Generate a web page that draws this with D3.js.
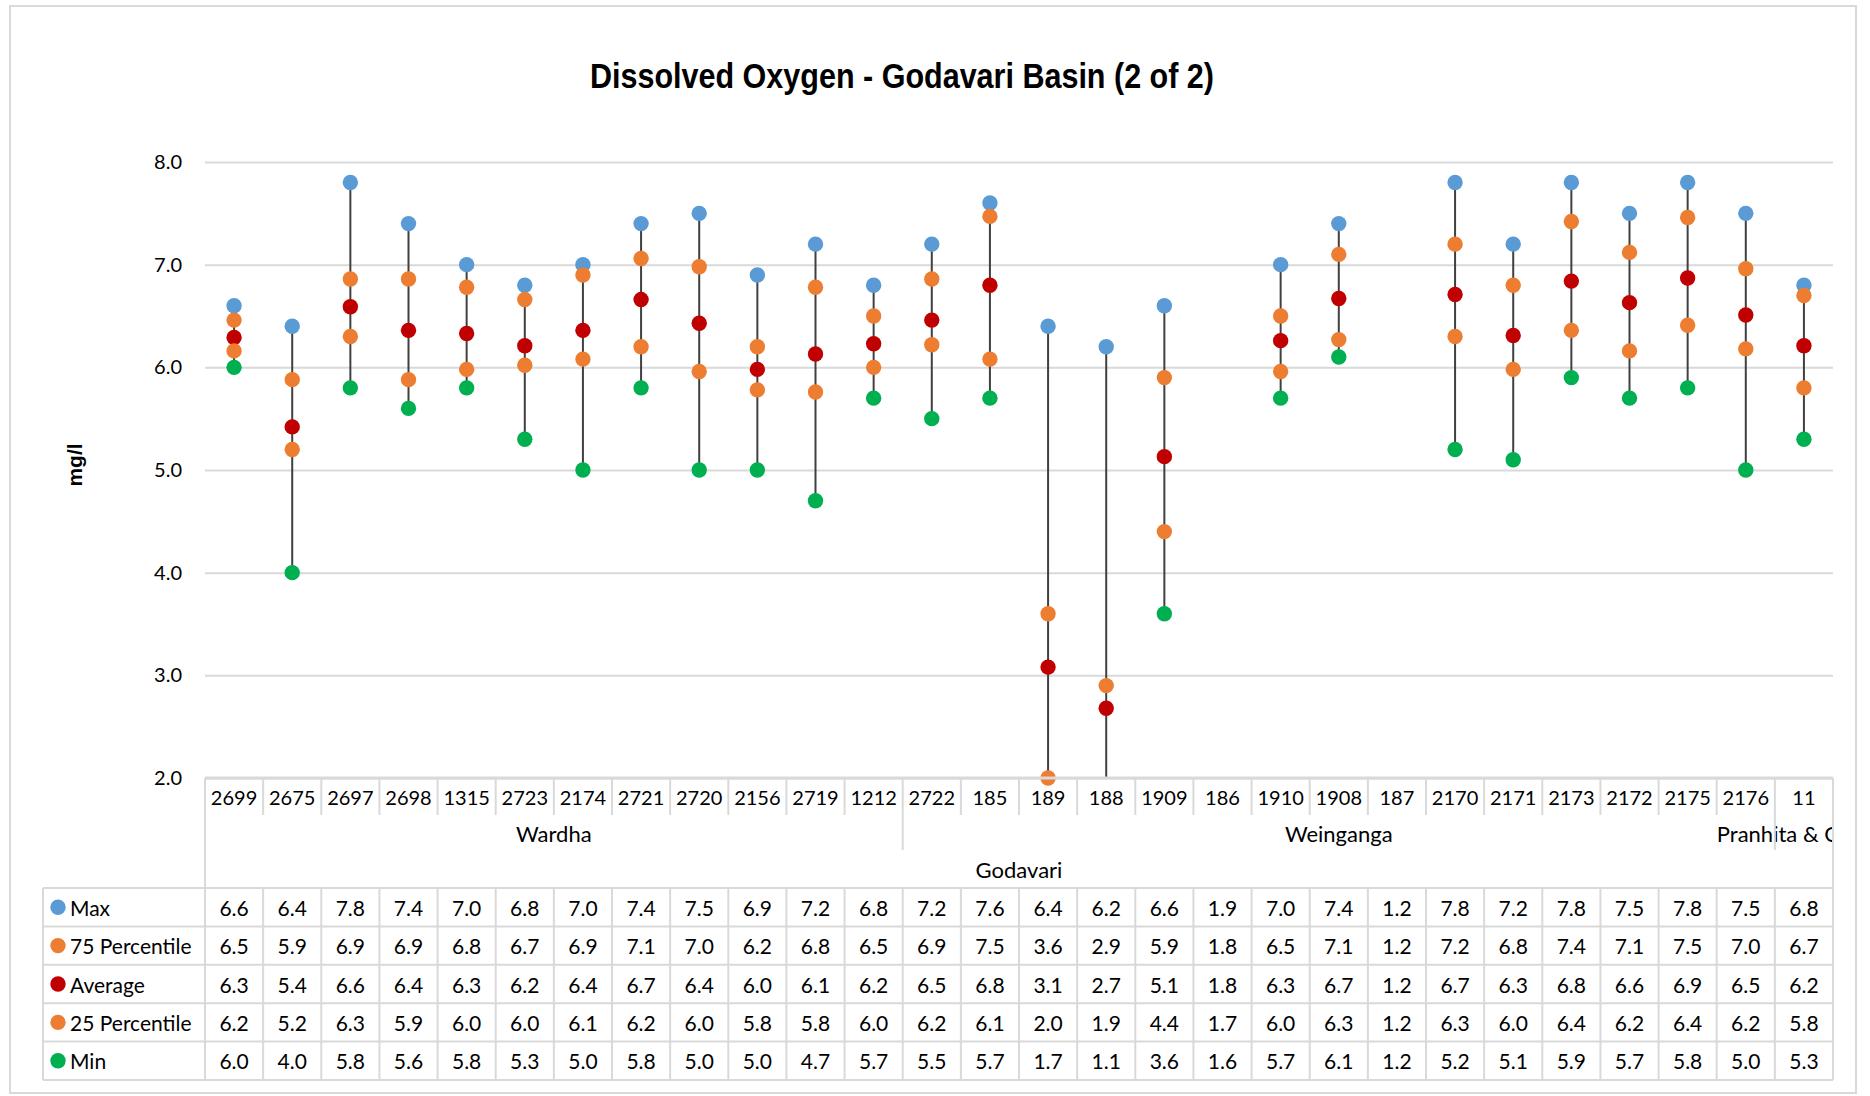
<!DOCTYPE html>
<html>
<head>
<meta charset="utf-8">
<script src="https://cdn.jsdelivr.net/npm/d3@7"></script>
<style>
  html, body { margin: 0; padding: 0; background: #ffffff; }
  svg { display: block; }
  .num { font-family: Lato, "Open Sans", sans-serif; fill: #000; }
</style>
</head>
<body>
<svg id="chart" width="1870" height="1096"></svg>
<script>
// Monitoring stations (category axis, level 1)
const categories = ["2699","2675","2697","2698","1315","2723","2174","2721","2720","2156","2719","1212",
  "2722","185","189","188","1909","186","1910","1908","187","2170","2171","2173","2172","2175","2176","11"];

// Sub-basins (level 2) and the number of stations in each
const subBasinNames = ["Wardha", "Weinganga", "Pranhita & Others"];
const subBasinSizes = [12, 15, 1];
// Basin (level 3)
const basinName = "Godavari";

// Dissolved oxygen statistics, mg/l
const maxValues = [6.6,6.4,7.8,7.4,7.0,6.8,7.0,7.4,7.5,6.9,7.2,6.8,
  7.2,7.6,6.4,6.2,6.6,1.9,7.0,7.4,1.2,7.8,7.2,7.8,7.5,7.8,7.5,6.8];
const p75Values = [6.46,5.88,6.86,6.86,6.78,6.66,6.9,7.06,6.98,6.2,6.78,6.5,
  6.86,7.47,3.6,2.9,5.9,1.8,6.5,7.1,1.2,7.2,6.8,7.42,7.12,7.46,6.96,6.7];
const avgValues = [6.29,5.42,6.59,6.36,6.33,6.21,6.36,6.66,6.43,5.98,6.13,6.23,
  6.46,6.8,3.08,2.68,5.13,1.8,6.26,6.67,1.2,6.71,6.31,6.84,6.63,6.87,6.51,6.21];
const p25Values = [6.16,5.2,6.3,5.88,5.98,6.02,6.08,6.2,5.96,5.78,5.76,6.0,
  6.22,6.08,2.0,1.9,4.4,1.7,5.96,6.27,1.2,6.3,5.98,6.36,6.16,6.41,6.18,5.8];
const minValues = [6.0,4.0,5.8,5.6,5.8,5.3,5.0,5.8,5.0,5.0,4.7,5.7,
  5.5,5.7,1.7,1.1,3.6,1.6,5.7,6.1,1.2,5.2,5.1,5.9,5.7,5.8,5.0,5.3];

const yTicks = [2, 3, 4, 5, 6, 7, 8];

const seriesNames = ["Max", "75 Percentile", "Average", "25 Percentile", "Min"];
const seriesValues = [maxValues, p75Values, avgValues, p25Values, minValues];
const seriesColors = ["#5b9bd5", "#ed7d31", "#c00000", "#ed7d31", "#00b050"];

const svg = d3.select("#chart");
const W = 1870, H = 1096;
const frame = { x: 10, y: 6, w: 1846, h: 1087 };
const plot = { left: 205, right: 1833, top: 162, bottom: 778 };
const gridColor = "#d9d9d9";
const markerR = 7.7;
const fmt = d3.format(".1f");

svg.append("rect").attr("width", W).attr("height", H).attr("fill", "#fff");

const defs = svg.append("defs");
defs.append("clipPath").attr("id", "frameClip")
  .append("rect").attr("x", frame.x).attr("y", frame.y).attr("width", frame.w).attr("height", frame.h);
defs.append("clipPath").attr("id", "plotClip")
  .append("rect").attr("x", plot.left).attr("y", plot.top - 10)
  .attr("width", plot.right - plot.left).attr("height", plot.bottom - plot.top + 10);
// axis labels stay inside the width of the category axis
defs.append("clipPath").attr("id", "axisClip")
  .append("rect").attr("x", frame.x).attr("y", plot.bottom)
  .attr("width", plot.right - frame.x).attr("height", 120);

const root = svg.append("g").attr("clip-path", "url(#frameClip)");

const x = d3.scaleBand().domain(categories).range([plot.left, plot.right]);
const y = d3.scaleLinear().domain([2, 8]).range([plot.bottom, plot.top]);

// Title (narrow bold face)
root.append("text")
  .attr("x", 902).attr("y", 88)
  .attr("text-anchor", "middle")
  .attr("textLength", 624)
  .attr("lengthAdjust", "spacingAndGlyphs")
  .style("font-family", "'Liberation Sans', Arial, sans-serif")
  .style("font-weight", "bold")
  .style("font-size", "35px")
  .text("Dissolved Oxygen - Godavari Basin (2 of 2)");

// Y axis with gridlines
const yAxis = root.append("g")
  .attr("transform", `translate(${plot.left},0)`)
  .call(d3.axisLeft(y).tickValues(yTicks).tickFormat(fmt)
    .tickSize(-(plot.right - plot.left)).tickPadding(23));
yAxis.select(".domain").remove();
yAxis.selectAll(".tick line").attr("stroke", gridColor).attr("stroke-width", 2);
yAxis.selectAll(".tick text")
  .attr("class", "num")
  .style("font-size", "20px");

// Y axis title
root.append("text")
  .attr("transform", "translate(74,465) rotate(-90)")
  .attr("text-anchor", "middle")
  .attr("dominant-baseline", "central")
  .style("font-family", "'Liberation Sans', Arial, sans-serif")
  .style("font-weight", "bold")
  .style("font-size", "21px")
  .text("mg/l");

// High-low lines, clipped to the plot area
const plotG = root.append("g");
plotG.append("g").attr("clip-path", "url(#plotClip)")
  .selectAll("line")
  .data(categories.map((c, i) => ({ c, hi: maxValues[i], lo: minValues[i] })).filter(d => d.hi >= 2))
  .join("line")
  .attr("x1", d => x(d.c) + x.bandwidth() / 2)
  .attr("x2", d => x(d.c) + x.bandwidth() / 2)
  .attr("y1", d => y(d.hi))
  .attr("y2", d => y(Math.max(d.lo, 1.5)))
  .attr("stroke", "#404040")
  .attr("stroke-width", 2);

// Markers for each statistic; values outside the axis range are not shown
seriesValues.forEach((vals, s) => {
  plotG.append("g")
    .selectAll("circle")
    .data(categories.map((c, i) => ({ c, v: vals[i] })).filter(d => d.v >= 2 && d.v <= 8))
    .join("circle")
    .attr("cx", d => x(d.c) + x.bandwidth() / 2)
    .attr("cy", d => y(d.v))
    .attr("r", markerR)
    .attr("fill", seriesColors[s]);
});

// Category axis: axis line and multi-level labels
const axisG = root.append("g");
const axisText = axisG.append("g").attr("clip-path", "url(#axisClip)");
const rowCat = { top: plot.bottom, bottom: 815 };
const rowSub = { top: 815, bottom: 850 };
const tableTop = 888, rowH = 38.4;
const tableLeft = 43;

axisG.append("line")
  .attr("x1", plot.left).attr("x2", plot.right)
  .attr("y1", plot.bottom).attr("y2", plot.bottom)
  .attr("stroke", gridColor).attr("stroke-width", 3);
// outer verticals of the axis area
[plot.left, plot.right].forEach(xx => {
  axisG.append("line")
    .attr("x1", xx).attr("x2", xx).attr("y1", plot.bottom).attr("y2", tableTop)
    .attr("stroke", gridColor).attr("stroke-width", 2);
});
// separators between stations
axisG.selectAll("line.catsep")
  .data(categories.slice(1))
  .join("line")
  .attr("class", "catsep")
  .attr("x1", d => x(d)).attr("x2", d => x(d))
  .attr("y1", rowCat.top).attr("y2", rowCat.bottom)
  .attr("stroke", gridColor).attr("stroke-width", 2);
// station labels
axisText.selectAll("text.cat")
  .data(categories)
  .join("text")
  .attr("class", "num cat")
  .attr("x", d => x(d) + x.bandwidth() / 2)
  .attr("y", 797)
  .attr("text-anchor", "middle")
  .attr("dominant-baseline", "central")
  .style("font-size", "20px")
  .text(d => d);

// sub-basin groups
const subStarts = d3.cumsum([0, ...subBasinSizes]).slice(0, subBasinSizes.length);
const subGroups = subBasinNames.map((name, k) => ({
  name,
  x0: x(categories[subStarts[k]]),
  x1: x(categories[subStarts[k] + subBasinSizes[k] - 1]) + x.bandwidth()
}));
axisG.selectAll("line.subsep")
  .data(subGroups.slice(1))
  .join("line")
  .attr("class", "subsep")
  .attr("x1", d => d.x0).attr("x2", d => d.x0)
  .attr("y1", rowSub.top).attr("y2", rowSub.bottom)
  .attr("stroke", gridColor).attr("stroke-width", 2);
axisText.selectAll("text.sub")
  .data(subGroups)
  .join("text")
  .attr("class", "num sub")
  .attr("x", d => (d.x0 + d.x1) / 2)
  .attr("y", 833)
  .attr("text-anchor", "middle")
  .attr("dominant-baseline", "central")
  .style("font-size", "22px")
  .text(d => d.name);

// basin label
axisText.append("text")
  .attr("class", "num")
  .attr("x", (plot.left + plot.right) / 2)
  .attr("y", 869)
  .attr("text-anchor", "middle")
  .attr("dominant-baseline", "central")
  .style("font-size", "22px")
  .text(basinName);

// Data table
const tableG = root.append("g");
const nRows = seriesNames.length;
// horizontal rules
d3.range(nRows + 1).forEach(r => {
  tableG.append("line")
    .attr("x1", tableLeft).attr("x2", plot.right)
    .attr("y1", tableTop + r * rowH).attr("y2", tableTop + r * rowH)
    .attr("stroke", gridColor).attr("stroke-width", 2);
});
// vertical rules
const colEdges = [tableLeft, ...categories.map(c => x(c)), plot.right];
colEdges.forEach(xx => {
  tableG.append("line")
    .attr("x1", xx).attr("x2", xx)
    .attr("y1", tableTop).attr("y2", tableTop + nRows * rowH)
    .attr("stroke", gridColor).attr("stroke-width", 2);
});
// legend keys and values
seriesNames.forEach((name, s) => {
  const cy = tableTop + s * rowH + rowH / 2;
  tableG.append("circle").attr("cx", 58).attr("cy", cy).attr("r", markerR).attr("fill", seriesColors[s]);
  tableG.append("text")
    .attr("class", "num")
    .attr("x", 70).attr("y", cy)
    .attr("dominant-baseline", "central")
    .style("font-size", "21px")
    .text(name);
  tableG.selectAll(null)
    .data(categories.map((c, i) => ({ c, v: seriesValues[s][i] })))
    .join("text")
    .attr("class", "num")
    .attr("x", d => x(d.c) + x.bandwidth() / 2)
    .attr("y", cy)
    .attr("text-anchor", "middle")
    .attr("dominant-baseline", "central")
    .style("font-size", "21px")
    .text(d => fmt(d.v));
});

// Chart border
svg.append("rect")
  .attr("x", frame.x).attr("y", frame.y)
  .attr("width", frame.w).attr("height", frame.h)
  .attr("fill", "none").attr("stroke", gridColor).attr("stroke-width", 2);
</script>
</body>
</html>
